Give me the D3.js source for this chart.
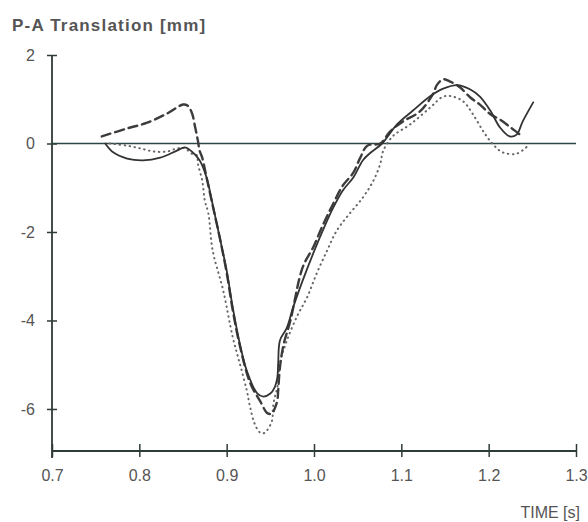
<!DOCTYPE html>
<html>
<head>
    <meta charset="utf-8">
    <script src="https://d3js.org/d3.v7.min.js"></script>
    <style>
        body { margin: 0; background: #fff; }
        text { font-family: "Liberation Sans", Arial, sans-serif; fill: #555; }
    </style>
</head>
<body>
    <svg id="chart" width="588" height="522"></svg>
    <script>
        // time [s] and P-A translation [mm] for the three traces
        var solidT = [0.761, 0.770, 0.786, 0.804, 0.824, 0.843, 0.852, 0.860, 0.869, 0.877, 0.883, 0.892, 0.900, 0.907, 0.915, 0.923, 0.935, 0.942, 0.950, 0.955, 0.958, 0.959, 0.961, 0.969, 0.976, 0.987, 0.999, 1.010, 1.022, 1.033, 1.045, 1.056, 1.064, 1.078, 1.095, 1.113, 1.133, 1.148, 1.164, 1.179, 1.190, 1.202, 1.213, 1.224, 1.232, 1.239, 1.251];
        var solidY = [0, -0.20, -0.34, -0.38, -0.32, -0.16, -0.09, -0.18, -0.38, -0.77, -1.29, -2.12, -2.87, -3.71, -4.52, -5.13, -5.65, -5.72, -5.65, -5.51, -5.29, -4.97, -4.45, -4.16, -3.71, -3.10, -2.49, -1.97, -1.45, -1.06, -0.77, -0.38, -0.22, 0, 0.43, 0.74, 1.07, 1.24, 1.32, 1.22, 1.06, 0.74, 0.36, 0.16, 0.20, 0.50, 0.93];

        var dashT = [0.757, 0.786, 0.809, 0.832, 0.850, 0.855, 0.860, 0.864, 0.867, 0.869, 0.872, 0.877, 0.884, 0.892, 0.900, 0.907, 0.915, 0.927, 0.938, 0.947, 0.952, 0.955, 0.958, 0.959, 0.961, 0.965, 0.973, 0.987, 0.999, 1.010, 1.022, 1.033, 1.045, 1.053, 1.061, 1.076, 1.087, 1.102, 1.121, 1.136, 1.141, 1.148, 1.156, 1.167, 1.179, 1.190, 1.202, 1.213, 1.224, 1.236, 1.239];
        var dashY = [0.16, 0.34, 0.47, 0.68, 0.88, 0.86, 0.70, 0.36, 0.07, -0.16, -0.32, -0.77, -1.40, -2.12, -2.92, -3.77, -4.56, -5.42, -5.81, -6.10, -6.10, -5.99, -5.81, -5.58, -5.06, -4.56, -4.00, -2.80, -2.35, -1.85, -1.36, -0.95, -0.66, -0.32, -0.05, 0, 0.27, 0.50, 0.72, 1.11, 1.33, 1.45, 1.40, 1.27, 1.04, 0.88, 0.66, 0.54, 0.38, 0.20, 0.16];

        var dotT = [0.766, 0.786, 0.801, 0.816, 0.832, 0.843, 0.852, 0.860, 0.866, 0.867, 0.872, 0.875, 0.879, 0.884, 0.896, 0.907, 0.915, 0.923, 0.927, 0.932, 0.938, 0.942, 0.946, 0.952, 0.953, 0.955, 0.958, 0.961, 0.969, 0.981, 0.992, 1.003, 1.015, 1.026, 1.041, 1.056, 1.068, 1.076, 1.079, 1.090, 1.110, 1.133, 1.148, 1.159, 1.171, 1.182, 1.194, 1.205, 1.216, 1.232, 1.244];
        var dotY = [0, -0.05, -0.11, -0.18, -0.18, -0.11, -0.11, -0.23, -0.27, -0.45, -0.84, -1.29, -1.58, -2.42, -3.32, -4.38, -4.97, -5.58, -5.97, -6.33, -6.53, -6.55, -6.49, -6.26, -5.97, -5.74, -5.51, -4.97, -4.45, -3.89, -3.48, -2.94, -2.42, -1.97, -1.58, -1.22, -0.84, -0.45, -0.18, 0.16, 0.43, 0.81, 1.06, 1.06, 0.95, 0.66, 0.27, -0.02, -0.20, -0.23, -0.07];

        var xTicks = [0.7, 0.8, 0.9, 1.0, 1.1, 1.2, 1.3];
        var yTicks = [2, 0, -2, -4, -6];

        var svg = d3.select("#chart");
        var axisColor = "#2f3b37";

        var x = d3.scaleLinear().domain([0.7, 1.3]).range([52, 576]);
        var y = d3.scaleLinear().domain([-6.95, 2]).range([451, 55]);

        // y axis, ticks crossing the line
        var gy = svg.append("g")
            .attr("transform", "translate(" + x(0.7) + ",0)")
            .call(d3.axisLeft(y).tickValues(yTicks).tickFormat(d => String(d)).tickSize(5).tickPadding(12).tickSizeOuter(0));
        gy.select(".domain").remove();
        gy.selectAll(".tick line").attr("x1", 5).attr("stroke", axisColor).attr("stroke-width", 1.5);
        gy.selectAll(".tick text").style("font-size", "16px").attr("fill", "#555");
        svg.append("line")
            .attr("x1", x(0.7)).attr("x2", x(0.7))
            .attr("y1", y(2)).attr("y2", 458)
            .attr("stroke", axisColor).attr("stroke-width", 1.8);

        // x axis
        var gx = svg.append("g")
            .attr("transform", "translate(0," + y(-6.95) + ")")
            .call(d3.axisBottom(x).tickValues(xTicks).tickFormat(d3.format(".1f")).tickSize(6).tickPadding(13).tickSizeOuter(0));
        gx.select(".domain").remove();
        gx.selectAll(".tick line").attr("y1", -7).attr("stroke", axisColor).attr("stroke-width", 1.5);
        gx.selectAll(".tick text").style("font-size", "16px").attr("fill", "#555");
        svg.append("line")
            .attr("x1", x(0.7)).attr("x2", x(1.3))
            .attr("y1", y(-6.95)).attr("y2", y(-6.95))
            .attr("stroke", axisColor).attr("stroke-width", 1.8);

        // zero line
        svg.append("line")
            .attr("x1", x(0.7)).attr("x2", x(1.3))
            .attr("y1", y(0)).attr("y2", y(0))
            .attr("stroke", "#2c4646").attr("stroke-width", 1.6);

        var line = d3.line()
            .x(d => x(d[0]))
            .y(d => y(d[1]))
            .curve(d3.curveCatmullRom.alpha(0.5));

        function draw(ts, vs, dash, width, color) {
            svg.append("path")
                .datum(ts.map((t, i) => [t, vs[i]]))
                .attr("d", line)
                .attr("fill", "none")
                .attr("stroke", color)
                .attr("stroke-width", width)
                .attr("stroke-dasharray", dash)
                .attr("stroke-linecap", "round")
                .attr("stroke-linejoin", "round");
        }

        draw(dotT, dotY, "0.5,4.5", 2, "#666");
        draw(dashT, dashY, "9,5", 2.4, "#3c3c3c");
        draw(solidT, solidY, null, 1.8, "#333");

        svg.append("text")
            .attr("x", 12).attr("y", 31)
            .style("font-size", "17px")
            .style("font-weight", "bold")
            .style("letter-spacing", "1.2px")
            .attr("fill", "#666")
            .text("P-A Translation [mm]");

        svg.append("text")
            .attr("x", 580).attr("y", 518)
            .attr("text-anchor", "end")
            .style("font-size", "16px")
            .text("TIME [s]");
    </script>
</body>
</html>
